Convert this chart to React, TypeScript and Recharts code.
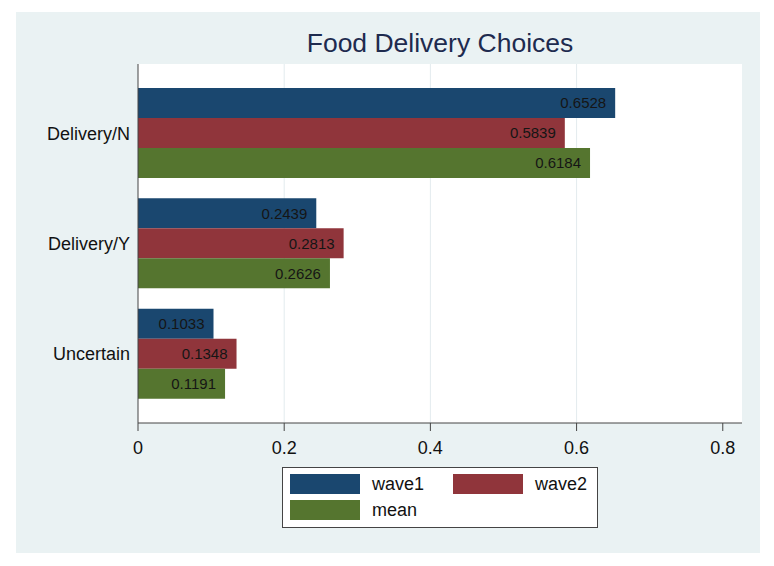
import {
  BarChart,
  Bar,
  XAxis,
  YAxis,
  CartesianGrid,
  LabelList,
  Legend,
} from "recharts";

const categories = ["Delivery/N", "Delivery/Y", "Uncertain"];
const wave1 = [0.6528, 0.2439, 0.1033];
const wave2 = [0.5839, 0.2813, 0.1348];
const meanVals = [0.6184, 0.2626, 0.1191];
const xTicks = [0, 0.2, 0.4, 0.6, 0.8];
const gridAt = [0.2, 0.4, 0.6];
const xMax = 0.8263;

const series = [
  { key: "wave1", label: "wave1", color: "#1A476F" },
  { key: "wave2", label: "wave2", color: "#90353B" },
  { key: "mean", label: "mean", color: "#55752F" },
];

const data = categories.map((name, i) => ({
  name,
  wave1: wave1[i],
  wave2: wave2[i],
  mean: meanVals[i],
}));

const FONT = '"Liberation Sans", Arial, Helvetica, sans-serif';

// legend laid out like stata's: 2 columns, mean wraps to second row
function StataLegend() {
  const spots = [
    { left: 7, top: 6 },
    { left: 170, top: 6 },
    { left: 7, top: 32 },
  ];
  return (
    <div
      style={{
        position: "relative",
        width: 316,
        height: 61,
        boxSizing: "border-box",
        border: "1px solid #444",
        background: "#fff",
        fontFamily: FONT,
      }}
    >
      {series.map((s, i) => (
        <div key={s.key}>
          <div
            style={{
              position: "absolute",
              left: spots[i].left,
              top: spots[i].top,
              width: 70,
              height: 20,
              background: s.color,
            }}
          />
          <div
            style={{
              position: "absolute",
              left: spots[i].left + 82,
              top: spots[i].top - 1,
              fontSize: 18,
              lineHeight: "22px",
              color: "#111",
            }}
          >
            {s.label}
          </div>
        </div>
      ))}
    </div>
  );
}

// grid only at the inner ticks, like stata does
function gridX({ xAxis, offset }: any) {
  return gridAt.map((v) =>
    xAxis && typeof xAxis.scale === "function"
      ? xAxis.scale(v)
      : offset.left + (v / xMax) * offset.width
  );
}

export default function App() {
  return (
    <div
      style={{
        position: "fixed",
        left: 0,
        top: 0,
        width: 774,
        height: 566,
        background: "#fff",
        fontFamily: FONT,
      }}
    >
      <div
        style={{
          position: "absolute",
          left: 16,
          top: 12,
          width: 744,
          height: 541,
          background: "#EAF2F3",
        }}
      />
      <div
        style={{
          position: "absolute",
          left: 140,
          top: 30,
          width: 600,
          textAlign: "center",
          fontSize: 26.5,
          lineHeight: "26px",
          color: "#1E2B4F",
        }}
      >
        Food Delivery Choices
      </div>
      <div style={{ position: "absolute", left: 0, top: 0 }}>
        <BarChart
          width={774}
          height={566}
          data={data}
          layout="vertical"
          barGap={0}
          margin={{ top: 64, right: 32, left: 0, bottom: 52 }}
        >
          <CartesianGrid
            horizontal={false}
            vertical
            fill="#fff"
            stroke="#E3EBEE"
            verticalCoordinatesGenerator={gridX}
          />
          <XAxis
            type="number"
            domain={[0, xMax]}
            ticks={xTicks}
            tickFormatter={(v) => (v === 0 ? "0" : String(v))}
            tickSize={8}
            tickMargin={10}
            height={30}
            stroke="#444"
            tick={{ fontSize: 18, fill: "#111", fontFamily: FONT }}
          />
          <YAxis
            type="category"
            dataKey="name"
            width={138}
            tickSize={0}
            tickMargin={8}
            padding={{ top: 14, bottom: 14 }}
            stroke="#444"
            tick={{ fontSize: 18, fill: "#111", fontFamily: FONT }}
          />
          {series.map((s) => (
            <Bar
              key={s.key}
              dataKey={s.key}
              name={s.label}
              fill={s.color}
              barSize={30}
              isAnimationActive={false}
            >
              <LabelList
                dataKey={s.key}
                position="insideRight"
                offset={9}
                fill="#151515"
                fontSize={15}
                fontFamily={FONT}
              />
            </Bar>
          ))}
          <Legend
            content={() => <StataLegend />}
            wrapperStyle={{ left: 282, top: 467, width: 316, height: 61 }}
          />
        </BarChart>
      </div>
    </div>
  );
}
